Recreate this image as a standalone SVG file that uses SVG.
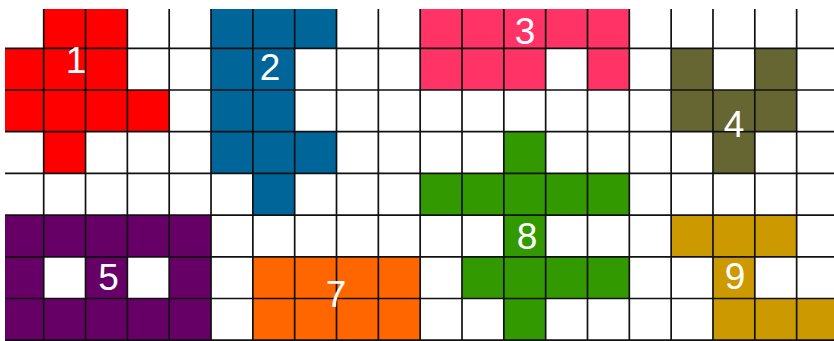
<svg xmlns="http://www.w3.org/2000/svg" width="834" height="341" viewBox="0 0 834 341">
<defs>
<style>
.red{fill:#FF0000}.blue{fill:#006699}.pink{fill:#FF3366}.olive{fill:#666633}
.purple{fill:#660066}.orange{fill:#FF6600}.green{fill:#339900}.gold{fill:#CC9900}
.grid{fill:none;stroke:#111;stroke-width:1.7}
.lbl{font-family:"Liberation Sans",Arial,sans-serif;font-size:37px;fill:#fff;text-anchor:middle}
</style>
<clipPath id="area"><rect x="5" y="9" width="829" height="332"/></clipPath>
</defs>
<rect width="834" height="341" fill="#fff"/>
<g clip-path="url(#area)">
<g id="shape1">
<rect class="red" x="43.70" y="6.6" width="83.66" height="41.7"/>
<rect class="red" x="1.87" y="48.3" width="125.49" height="41.7"/>
<rect class="red" x="1.87" y="90.0" width="167.32" height="41.7"/>
<rect class="red" x="43.70" y="131.7" width="41.83" height="41.7"/>
</g>
<g id="shape2">
<rect class="blue" x="211.02" y="6.6" width="125.49" height="41.7"/>
<rect class="blue" x="211.02" y="48.3" width="83.66" height="83.4"/>
<rect class="blue" x="211.02" y="131.7" width="125.49" height="41.7"/>
<rect class="blue" x="252.85" y="173.4" width="41.83" height="41.7"/>
</g>
<g id="shape3">
<rect class="pink" x="420.17" y="6.6" width="209.15" height="41.7"/>
<rect class="pink" x="420.17" y="48.3" width="125.49" height="41.7"/>
<rect class="pink" x="587.49" y="48.3" width="41.83" height="41.7"/>
</g>
<g id="shape4">
<rect class="olive" x="671.15" y="48.3" width="41.83" height="41.7"/>
<rect class="olive" x="754.81" y="48.3" width="41.83" height="41.7"/>
<rect class="olive" x="671.15" y="90.0" width="125.49" height="41.7"/>
<rect class="olive" x="712.98" y="131.7" width="41.83" height="41.7"/>
</g>
<g id="shape5">
<rect class="purple" x="1.87" y="215.1" width="209.15" height="41.7"/>
<rect class="purple" x="1.87" y="256.8" width="41.83" height="41.7"/>
<rect class="purple" x="85.53" y="256.8" width="41.83" height="41.7"/>
<rect class="purple" x="169.19" y="256.8" width="41.83" height="41.7"/>
<rect class="purple" x="1.87" y="298.5" width="209.15" height="41.7"/>
</g>
<g id="shape7">
<rect class="orange" x="252.85" y="256.8" width="167.32" height="83.4"/>
</g>
<g id="shape8">
<rect class="green" x="503.83" y="131.7" width="41.83" height="41.7"/>
<rect class="green" x="420.17" y="173.4" width="209.15" height="41.7"/>
<rect class="green" x="503.83" y="215.1" width="41.83" height="41.7"/>
<rect class="green" x="462.00" y="256.8" width="167.32" height="41.7"/>
<rect class="green" x="503.83" y="298.5" width="41.83" height="41.7"/>
</g>
<g id="shape9">
<rect class="gold" x="671.15" y="215.1" width="125.49" height="41.7"/>
<rect class="gold" x="712.98" y="256.8" width="41.83" height="41.7"/>
<rect class="gold" x="712.98" y="298.5" width="125.49" height="41.7"/>
</g>
<g id="gridlines">
<path class="grid" d="M43.70,9V341M85.53,9V341M127.36,9V341M169.19,9V341M211.02,9V341M252.85,9V341M294.68,9V341M336.51,9V341M378.34,9V341M420.17,9V341M462.00,9V341M503.83,9V341M545.66,9V341M587.49,9V341M629.32,9V341M671.15,9V341M712.98,9V341M754.81,9V341M796.64,9V341
M5,48.3H834M5,90.0H834M5,131.7H834M5,173.4H834M5,215.1H834M5,256.8H834M5,298.5H834M5,340.2H834"/>
</g>
<g id="labels">
<text class="lbl" x="76" y="72.5">1</text>
<text class="lbl" x="270" y="80">2</text>
<text class="lbl" x="525" y="44">3</text>
<text class="lbl" x="734" y="136.5">4</text>
<text class="lbl" x="108.5" y="290">5</text>
<text class="lbl" x="336" y="306.5">7</text>
<text class="lbl" x="527" y="249">8</text>
<text class="lbl" x="735" y="289">9</text>
</g>
</g>
</svg>
